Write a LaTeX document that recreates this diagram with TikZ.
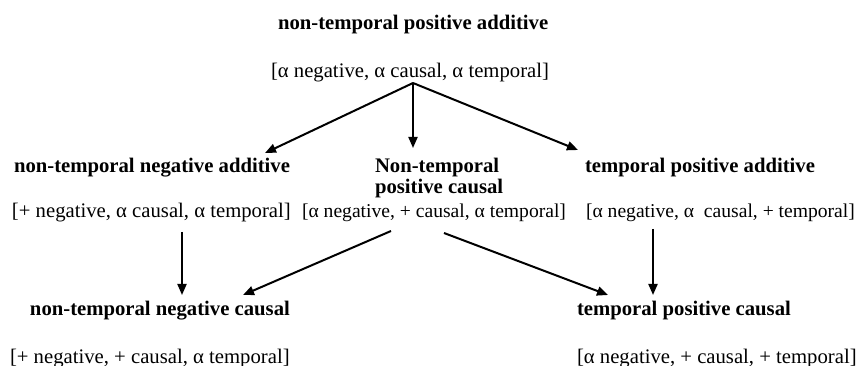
\documentclass[tikz,border=0pt]{standalone}
\usepackage{fontspec}
\setmainfont{Liberation Serif}
\usetikzlibrary{arrows.meta}
\begin{document}
\begin{tikzpicture}[x=1pt,y=-1pt,
  lbl/.style={inner sep=0pt,outer sep=0pt,anchor=base west,font=\fontsize{20.7}{24}\selectfont},
  lbls/.style={lbl,font=\fontsize{19.6}{24}\selectfont},
  ttl/.style={lbl,font=\fontsize{20.7}{21}\selectfont\bfseries},
  arr/.style={line width=2pt,-{Triangle[length=11pt,width=9pt]}}]
\useasboundingbox (0,0) rectangle (860,366);
% row 1
\node[ttl] (t0) at (278,30) {non-temporal positive additive};
\node[lbl] (b0) at (271,78) {[α negative, α causal, α temporal]};
% row 2
\node[ttl] (t1) at (14,173) {non-temporal negative additive};
\node[ttl,align=left] (t2) at (375,194) {Non-temporal\\positive causal};
\node[ttl] (t3) at (585,173) {temporal positive additive};
\node[lbl] (b1) at (12,218) {[+ negative, α causal, α temporal]};
\node[lbls] (b2) at (302,218) {[α negative, + causal, α temporal]};
\node[lbls] (b3) at (586,218) {[α negative, α\ \ causal, + temporal]};
% row 3
\node[ttl] (t4) at (30,316) {non-temporal negative causal};
\node[ttl] (t5) at (577,316) {temporal positive causal};
\node[lbl] (b4) at (10,363) {[+ negative, + causal, α temporal]};
\node[lbl] (b5) at (577,363) {[α negative, + causal, + temporal]};
% connector ends
\coordinate (p0) at (413,83);
\coordinate (e1) at (265,153);
\coordinate (e2) at (413,148);
\coordinate (e3) at (578,150);
\coordinate (s1) at (182,232);
\coordinate (s2a) at (391,231);
\coordinate (s2b) at (444,233);
\coordinate (s3) at (653,229);
\coordinate (f1) at (182,295);
\coordinate (f2) at (243,295);
\coordinate (f3) at (608,295);
\coordinate (f4) at (653,295);
\draw[arr] (p0) -- (e1);
\draw[arr] (p0) -- (e2);
\draw[arr] (p0) -- (e3);
\draw[arr] (s1) -- (f1);
\draw[arr] (s2a) -- (f2);
\draw[arr] (s2b) -- (f3);
\draw[arr] (s3) -- (f4);
\end{tikzpicture}
\end{document}
